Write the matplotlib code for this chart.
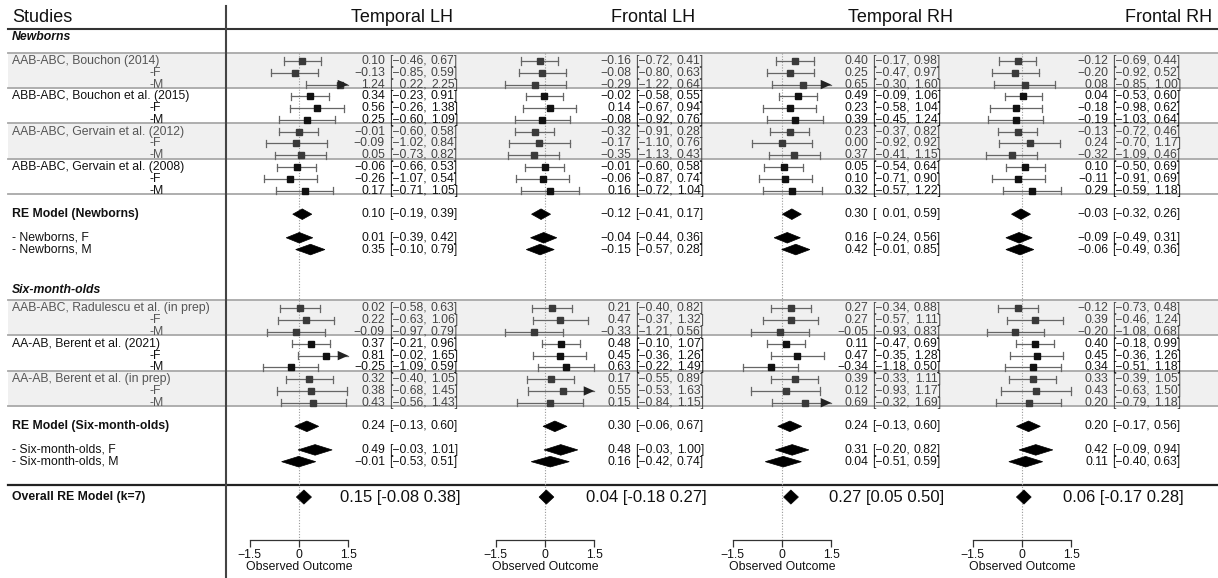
import matplotlib
matplotlib.use("Agg")
import matplotlib.pyplot as plt
from matplotlib.patches import Polygon, Rectangle

plt.rcParams['font.family'] = ['Liberation Sans', 'DejaVu Sans']

# ---------------- data ----------------
panel_titles = ["Temporal LH", "Frontal LH", "Temporal RH", "Frontal RH"]
newborn_studies = ["AAB-ABC, Bouchon (2014)", "ABB-ABC, Bouchon et al. (2015)",
                   "AAB-ABC, Gervain et al. (2012)", "ABB-ABC, Gervain et al. (2008)"]
sixmonth_studies = ["AAB-ABC, Radulescu et al. (in prep)", "AA-AB, Berent et al. (2021)",
                    "AA-AB, Berent et al. (in prep)"]
summary_labels = ["RE Model (Newborns)", "- Newborns, F", "- Newborns, M",
                  "RE Model (Six-month-olds)", "- Six-month-olds, F", "- Six-month-olds, M"]
group_labels = ["Newborns", "Six-month-olds"]
overall_label = "Overall RE Model (k=7)"
tick_values = [-1.5, 0, 1.5]

# study rows: 12 newborn rows (study, F, M) then 9 six-month rows
tlh_est = [0.10, -0.13, 1.24, 0.34, 0.56, 0.25, -0.01, -0.09, 0.05, -0.06, -0.26, 0.17,
           0.02, 0.22, -0.09, 0.37, 0.81, -0.25, 0.32, 0.38, 0.43]
tlh_lo = [-0.46, -0.85, 0.22, -0.23, -0.26, -0.60, -0.60, -1.02, -0.73, -0.66, -1.07, -0.71,
          -0.58, -0.63, -0.97, -0.21, -0.02, -1.09, -0.40, -0.68, -0.56]
tlh_hi = [0.67, 0.59, 2.25, 0.91, 1.38, 1.09, 0.58, 0.84, 0.82, 0.53, 0.54, 1.05,
          0.63, 1.06, 0.79, 0.96, 1.65, 0.59, 1.05, 1.45, 1.43]

flh_est = [-0.16, -0.08, -0.29, -0.02, 0.14, -0.08, -0.32, -0.17, -0.35, -0.01, -0.06, 0.16,
           0.21, 0.47, -0.33, 0.48, 0.45, 0.63, 0.17, 0.55, 0.15]
flh_lo = [-0.72, -0.80, -1.22, -0.58, -0.67, -0.92, -0.91, -1.10, -1.13, -0.60, -0.87, -0.72,
          -0.40, -0.37, -1.21, -0.10, -0.36, -0.22, -0.55, -0.53, -0.84]
flh_hi = [0.41, 0.63, 0.64, 0.55, 0.94, 0.76, 0.28, 0.76, 0.43, 0.58, 0.74, 1.04,
          0.82, 1.32, 0.56, 1.07, 1.26, 1.49, 0.89, 1.63, 1.15]

trh_est = [0.40, 0.25, 0.65, 0.49, 0.23, 0.39, 0.23, 0.00, 0.37, 0.05, 0.10, 0.32,
           0.27, 0.27, -0.05, 0.11, 0.47, -0.34, 0.39, 0.12, 0.69]
trh_lo = [-0.17, -0.47, -0.30, -0.09, -0.58, -0.45, -0.37, -0.92, -0.41, -0.54, -0.71, -0.57,
          -0.34, -0.57, -0.93, -0.47, -0.35, -1.18, -0.33, -0.93, -0.32]
trh_hi = [0.98, 0.97, 1.60, 1.06, 1.04, 1.24, 0.82, 0.92, 1.15, 0.64, 0.90, 1.22,
          0.88, 1.11, 0.83, 0.69, 1.28, 0.50, 1.11, 1.17, 1.69]

frh_est = [-0.12, -0.20, 0.08, 0.04, -0.18, -0.19, -0.13, 0.24, -0.32, 0.10, -0.11, 0.29,
           -0.12, 0.39, -0.20, 0.40, 0.45, 0.34, 0.33, 0.43, 0.20]
frh_lo = [-0.69, -0.92, -0.85, -0.53, -0.98, -1.03, -0.72, -0.70, -1.09, -0.50, -0.91, -0.59,
          -0.73, -0.46, -1.08, -0.18, -0.36, -0.51, -0.39, -0.63, -0.79]
frh_hi = [0.44, 0.52, 1.00, 0.60, 0.62, 0.64, 0.46, 1.17, 0.46, 0.69, 0.69, 1.18,
          0.48, 1.24, 0.68, 0.99, 1.26, 1.18, 1.05, 1.50, 1.18]

# summaries: RE newborns, F, M, RE six-month-olds, F, M
tlh_sum_est = [0.10, 0.01, 0.35, 0.24, 0.49, -0.01]
tlh_sum_lo = [-0.19, -0.39, -0.10, -0.13, -0.03, -0.53]
tlh_sum_hi = [0.39, 0.42, 0.79, 0.60, 1.01, 0.51]
flh_sum_est = [-0.12, -0.04, -0.15, 0.30, 0.48, 0.16]
flh_sum_lo = [-0.41, -0.44, -0.57, -0.06, -0.03, -0.42]
flh_sum_hi = [0.17, 0.36, 0.28, 0.67, 1.00, 0.74]
trh_sum_est = [0.30, 0.16, 0.42, 0.24, 0.31, 0.04]
trh_sum_lo = [0.01, -0.24, -0.01, -0.13, -0.20, -0.51]
trh_sum_hi = [0.59, 0.56, 0.85, 0.60, 0.82, 0.59]
frh_sum_est = [-0.03, -0.09, -0.06, 0.20, 0.42, 0.11]
frh_sum_lo = [-0.32, -0.49, -0.49, -0.17, -0.09, -0.40]
frh_sum_hi = [0.26, 0.31, 0.36, 0.56, 0.94, 0.63]

overall_est = [0.15, 0.04, 0.27, 0.06]
overall_lo = [-0.08, -0.18, 0.05, -0.17]
overall_hi = [0.38, 0.27, 0.50, 0.28]

panels = [
    (tlh_est, tlh_lo, tlh_hi, tlh_sum_est, tlh_sum_lo, tlh_sum_hi),
    (flh_est, flh_lo, flh_hi, flh_sum_est, flh_sum_lo, flh_sum_hi),
    (trh_est, trh_lo, trh_hi, trh_sum_est, trh_sum_lo, trh_sum_hi),
    (frh_est, frh_lo, frh_hi, frh_sum_est, frh_sum_lo, frh_sum_hi),
]

# ---------------- layout ----------------
W, H = 1218, 578
ROW0_PX, ROW_PX = 61.0, 11.785


def px2row(py):
    return (py - ROW0_PX) / ROW_PX


study_rows = list(range(0, 12)) + list(range(21, 30))
summary_rows = [13, 15, 16, 31, 33, 34]
overall_row = 37
group_rows = [-2, 19.45]
banded = set([0, 1, 2, 6, 7, 8, 21, 22, 23, 27, 28, 29])
band_bounds = [(-0.72, 2.28), (5.28, 8.28), (20.28, 23.28), (26.28, 29.28)]
sep_rows = [-0.72, 2.28, 5.28, 8.28, 11.28, 20.28, 23.28, 26.28, 29.28]

zeros_px = [299, 545, 782, 1022]
SCALE = 32.8          # pixels per unit
AXIS_PX = 540
XL = 1.9
title_x_px = [402, 653, 900, 1169]

FS = 8.8
CLIP = 1.5

fig = plt.figure(figsize=(W / 100, H / 100), dpi=100)

# background axes in pixel-x / row-y
bg = fig.add_axes([0, 0, 1, 1])
bg.set_xlim(0, W)
bg.set_ylim(px2row(H), px2row(0))
bg.axis('off')

for (r0, r1) in band_bounds:
    bg.add_patch(Rectangle((8, r0), W - 8, r1 - r0, facecolor='#f0f0f0',
                           edgecolor='none', zorder=0))
for r in sep_rows:
    bg.plot([8, W], [r, r], color='#a8a8a8', lw=1.3, zorder=1)
bg.plot([8, W], [px2row(29), px2row(29)], color='#333333', lw=1.5, zorder=2)
bg.plot([8, W], [35.98, 35.98], color='#222222', lw=1.6, zorder=2)
bg.plot([226, 226], [px2row(6), px2row(H)], color='#444444', lw=1.5, zorder=2)

bg.text(12, px2row(17), "Studies", fontsize=13, ha='left', va='center', color='#111111')
for x, t in zip(title_x_px, panel_titles):
    bg.text(x, px2row(17), t, fontsize=13, ha='center', va='center', color='#111111')

# left labels
for g, r in zip(group_labels, group_rows):
    bg.text(12, r, g, fontsize=FS, fontweight='bold', fontstyle='italic',
            ha='left', va='center', color='#111111')
names_rows = [0, 3, 6, 9, 21, 24, 27]
for name, r in zip(newborn_studies + sixmonth_studies, names_rows):
    col = '#555555' if r in banded else '#111111'
    bg.text(12, r, name, fontsize=FS, ha='left', va='center', color=col)
    bg.text(150, r + 1, "-F", fontsize=FS, ha='left', va='center', color=col)
    bg.text(150, r + 2, "-M", fontsize=FS, ha='left', va='center', color=col)
for lab, r in zip(summary_labels, summary_rows):
    bold = lab.startswith("RE")
    bg.text(12, r, lab, fontsize=FS, ha='left', va='center', color='#111111',
            fontweight='bold' if bold else 'normal')
bg.text(12, overall_row, overall_label, fontsize=FS, fontweight='bold',
        ha='left', va='center', color='#111111')


def fmt(v):
    s = f"{v:.2f}"
    return s.replace('-', '\u2212') if v < 0 else s


def tickfmt(v):
    s = f"{v:g}"
    return s.replace('-', '\u2212')


EST_X = 86 / SCALE
LO_X = 128 / SCALE
HI_X = 159 / SCALE
OV_X = 162 / SCALE

for i, (zpx, data) in enumerate(zip(zeros_px, panels)):
    est, lo, hi, s_est, s_lo, s_hi = data
    left = zpx - XL * SCALE
    ax = fig.add_axes([left / W, (H - AXIS_PX) / H, 2 * XL * SCALE / W, AXIS_PX / H])
    ax.set_xlim(-XL, XL)
    ax.set_ylim(px2row(AXIS_PX), px2row(0))
    ax.patch.set_alpha(0)
    for s in ['top', 'right', 'left']:
        ax.spines[s].set_visible(False)
    ax.spines['bottom'].set_bounds(-1.5, 1.5)
    ax.spines['bottom'].set_color('#333333')
    ax.spines['bottom'].set_linewidth(0.9)
    ax.set_yticks([])
    ax.set_xticks(tick_values)
    ax.set_xticklabels([tickfmt(t) for t in tick_values])
    ax.tick_params(axis='x', direction='out', length=5, width=0.9, color='#333333',
                   labelsize=FS, pad=1.5, labelcolor='#111111')
    ax.set_xlabel("Observed Outcome", fontsize=FS, labelpad=0, color='#111111')

    # reference line
    ax.plot([0, 0], [-0.72, px2row(AXIS_PX)], color='#999999', lw=0.8,
            linestyle=(0, (1, 1.5)), zorder=1)

    for r, e, l, h in zip(study_rows, est, lo, hi):
        col = '#3a3a3a' if r in banded else '#111111'
        tcol = '#444444' if r in banded else '#111111'
        hc = min(h, CLIP)
        ax.plot([l, hc], [r, r], color='#666666', lw=0.9, zorder=2)
        ax.plot([l, l], [r - 0.3, r + 0.3], color='#666666', lw=0.9, zorder=2)
        if h > CLIP:
            ax.add_patch(Polygon([(CLIP, r), (CLIP - 0.32, r - 0.4), (CLIP - 0.32, r + 0.4)],
                                 closed=True, facecolor='#222222', edgecolor='none', zorder=4))
        else:
            ax.plot([h, h], [r - 0.3, r + 0.3], color='#666666', lw=0.9, zorder=2)
        ax.plot([e], [r], marker='s', ms=4.6, color=col, mec=col, zorder=3, linestyle='none')
        ax.text(EST_X, r, fmt(e), fontsize=FS, ha='right', va='center', color=tcol)
        ax.text(LO_X, r, "[" + (fmt(l) if l < 0 else "\u2002" + fmt(l)) + ",",
                fontsize=FS, ha='right', va='center', color=tcol)
        ax.text(HI_X, r, fmt(h) + "]", fontsize=FS, ha='right', va='center', color=tcol)

    for r, e, l, h in zip(summary_rows, s_est, s_lo, s_hi):
        ax.add_patch(Polygon([(l, r), (e, r - 0.45), (h, r), (e, r + 0.45)], closed=True,
                             facecolor='black', edgecolor='black', lw=0.5, zorder=3))
        ax.text(EST_X, r, fmt(e), fontsize=FS, ha='right', va='center', color='#111111')
        ax.text(LO_X, r, "[" + (fmt(l) if l < 0 else "\u2002" + fmt(l)) + ",",
                fontsize=FS, ha='right', va='center', color='#111111')
        ax.text(HI_X, r, fmt(h) + "]", fontsize=FS, ha='right', va='center', color='#111111')

    e, l, h = overall_est[i], overall_lo[i], overall_hi[i]
    r = overall_row
    ax.add_patch(Polygon([(l, r), (e, r - 0.6), (h, r), (e, r + 0.6)], closed=True,
                         facecolor='black', edgecolor='black', lw=0.5, zorder=3))
    ax.text(OV_X, r, f"{e:.2f} [{l:.2f} {h:.2f}]", fontsize=12, ha='right',
            va='center', color='#111111')

fig.savefig("out.png", dpi=100)
